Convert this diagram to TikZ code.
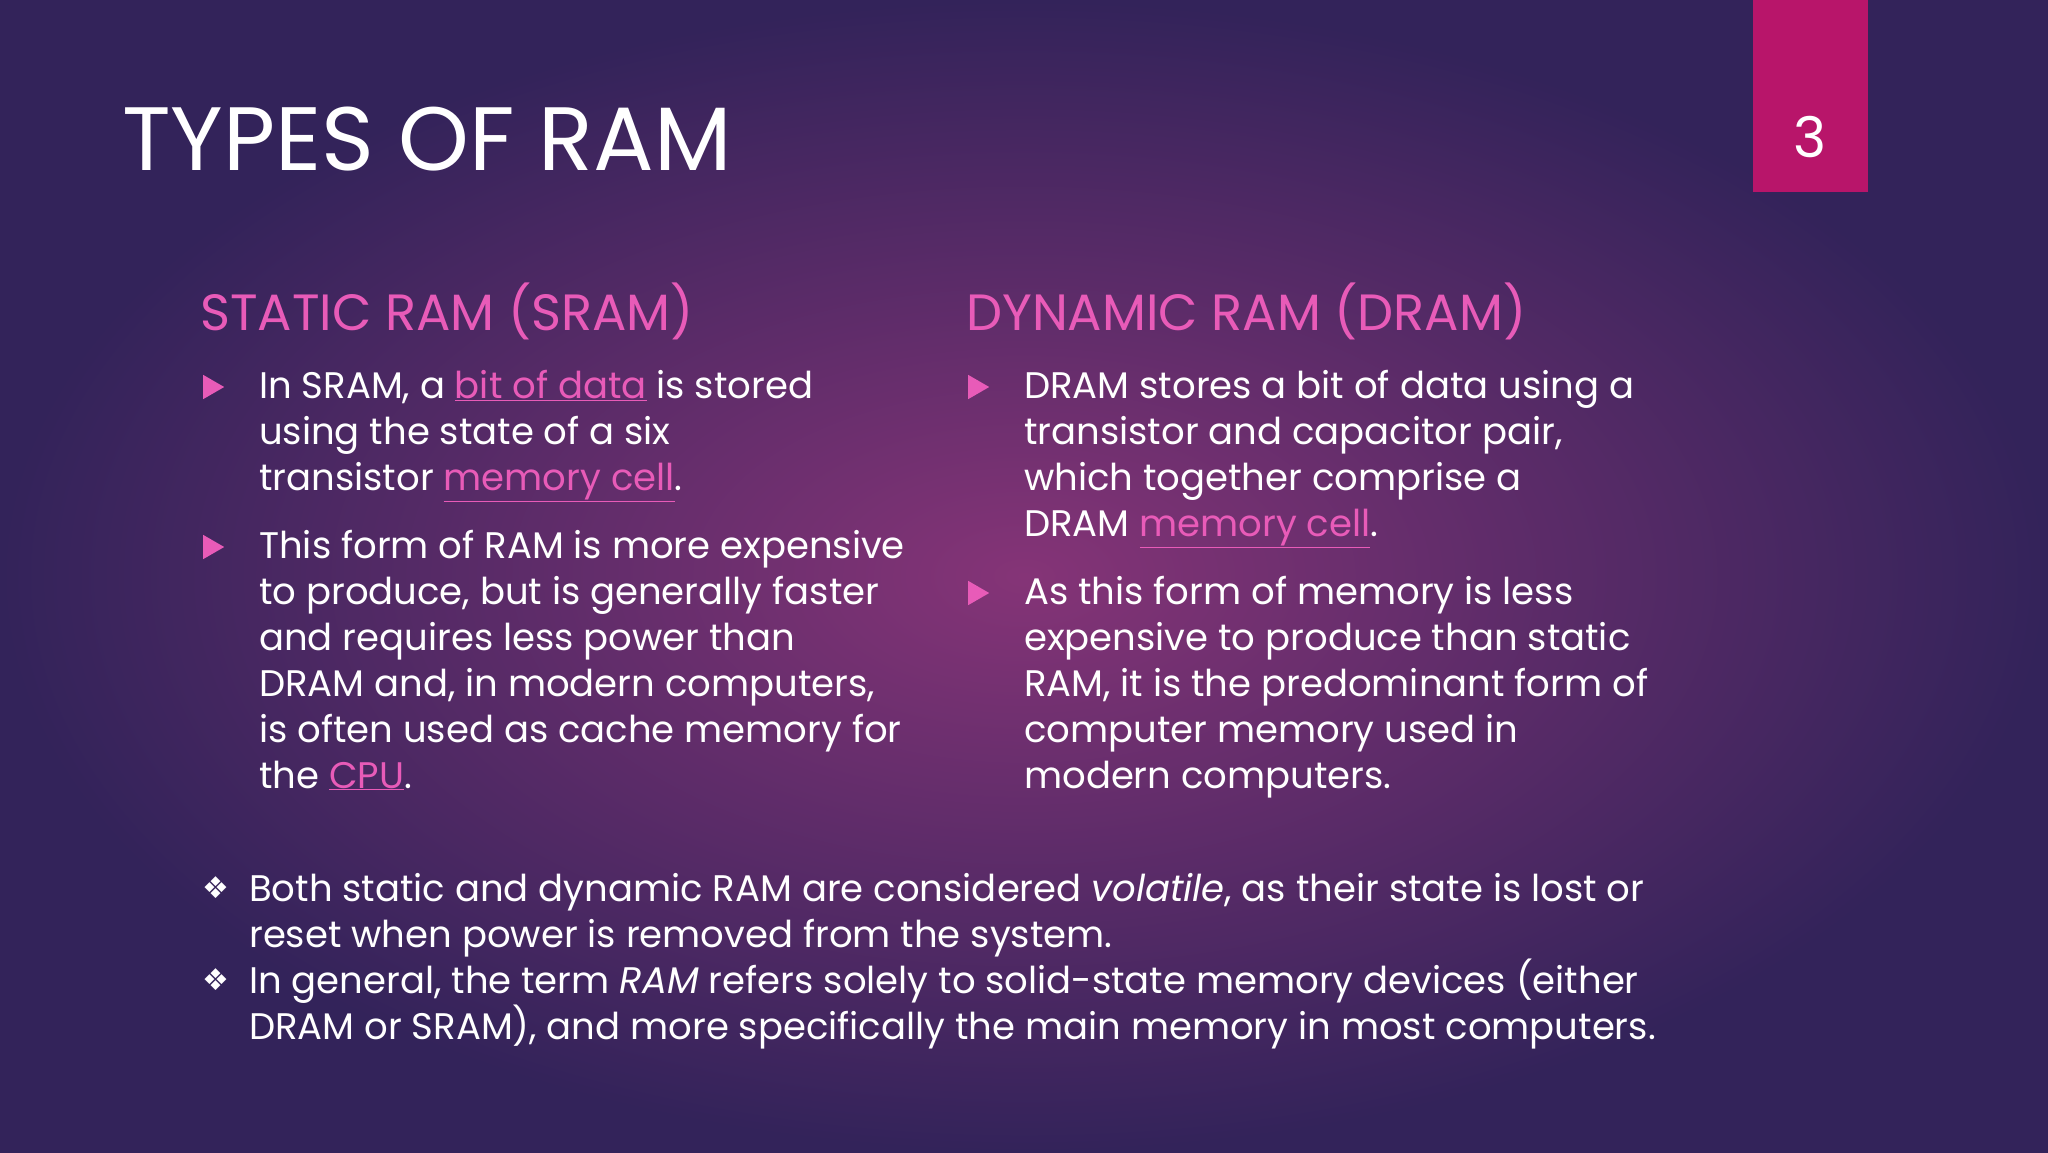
\documentclass[tikz,border=0pt]{standalone}
\usepackage{fontspec}
\setmainfont{Poppins}
\newfontfamily\djv{DejaVu Sans}
\usetikzlibrary{shapes.geometric}
\definecolor{pinkh}{HTML}{E85BB8}
\definecolor{boxc}{HTML}{B8156A}
\definecolor{bgin}{HTML}{853477}
\definecolor{bgout}{HTML}{33235A}
\newcommand{\lnk}[1]{{\color{pinkh}\underline{#1}}}
\tikzset{
  ln/.style={anchor=base west,inner sep=0pt,text=white,font=\fontsize{37}{46}\selectfont},
  bl/.style={anchor=base west,inner sep=0pt,text=white,font=\fontsize{37}{46}\selectfont},
  hd/.style={anchor=base west,inner sep=0pt,text=pinkh,font=\fontsize{51}{60}\selectfont},
  tri/.style={fill=pinkh,draw=none,isosceles triangle,isosceles triangle apex angle=60,inner sep=0pt,minimum width=23pt,minimum height=21pt,anchor=west}
}
\begin{document}
\begin{tikzpicture}[x=1pt,y=-1pt]
\useasboundingbox (0,0) rectangle (2048,1152);
\shade[inner color=bgin,outer color=bgout] (0,0) rectangle (2048,1152);
\fill[boxc] (1753,0) rectangle (1868,192);
\node[anchor=center,text=white,font=\fontsize{56}{60}\selectfont] (num) at (1810,137) {3};
\node[anchor=base west,inner sep=0pt,text=white,font=\fontsize{90}{100}\selectfont] (title) at (122,170) {TYPES OF RAM};
\node[hd] (h1) at (200,330) {STATIC RAM (SRAM)};
\node[hd] (h2) at (966,330) {DYNAMIC RAM (DRAM)};
% left bullets
\node[tri] (t1) at (203,387) {};
\node[ln] (a1) at (259,398) {In SRAM, a \lnk{bit of data} is stored};
\node[ln] (a2) at (259,444) {using the state of a six};
\node[ln] (a3) at (259,490) {transistor \lnk{memory cell}.};
\node[tri] (t2) at (203,547) {};
\node[ln] (b1) at (259,558) {This form of RAM is more expensive};
\node[ln] (b2) at (259,604) {to produce, but is generally faster};
\node[ln] (b3) at (259,650) {and requires less power than};
\node[ln] (b4) at (259,696) {DRAM and, in modern computers,};
\node[ln] (b5) at (259,742) {is often used as cache memory for};
\node[ln] (b6) at (259,788) {the \lnk{CPU}.};
% right bullets
\node[tri] (t3) at (968,387) {};
\node[ln] (c1) at (1024,398) {DRAM stores a bit of data using a};
\node[ln] (c2) at (1024,444) {transistor and capacitor pair,};
\node[ln] (c3) at (1024,490) {which together comprise a};
\node[ln] (c4) at (1024,536) {DRAM \lnk{memory cell}.};
\node[tri] (t4) at (968,593) {};
\node[ln] (d1) at (1024,604) {As this form of memory is less};
\node[ln] (d2) at (1024,650) {expensive to produce than static};
\node[ln] (d3) at (1024,696) {RAM, it is the predominant form of};
\node[ln] (d4) at (1024,742) {computer memory used in};
\node[ln] (d5) at (1024,788) {modern computers.};
% bottom
\node[bl,font=\djv\fontsize{30}{36}\selectfont] (s1) at (202,898) {❖};
\node[bl] (e1) at (249,901) {Both static and dynamic RAM are considered \textit{volatile}, as their state is lost or};
\node[bl] (e2) at (249,947) {reset when power is removed from the system.};
\node[bl,font=\djv\fontsize{30}{36}\selectfont] (s2) at (202,990) {❖};
\node[bl] (e3) at (249,993) {In general, the term \textit{RAM} refers solely to solid-state memory devices (either};
\node[bl] (e4) at (249,1039) {DRAM or SRAM), and more specifically the main memory in most computers.};
\end{tikzpicture}
\end{document}
